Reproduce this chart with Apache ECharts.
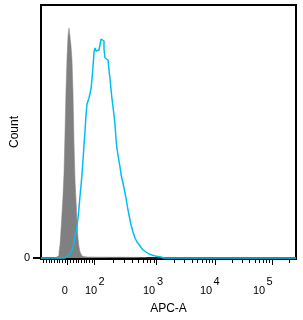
<!DOCTYPE html>
<html><head><meta charset="utf-8">
<script src="https://cdn.jsdelivr.net/npm/echarts@6/dist/echarts.min.js"></script>
<style>html,body{margin:0;padding:0;background:#fff}#c{width:303px;height:320px}</style>
</head><body><div id="c"></div>
<script>
// Histogram data in display channels (0..255)
const channelCount = 256;
const grayStart = 14;
const grayCounts = [0.5,1,1.5,2.5,6,13,28,45,62,85,125,168,200,222,230,228,212,198,165,115,78,58,35,20,11,6,4,2,1.5,
  1.2,1.2,1.1,1,1,1,1,1,1,1,0.9,0.9,0.9,0.9,0.9,0.9,0.9,0.9,0.9,0.9,0.9,0.9,0.8,0.8,0.8,0.8,0.8,0.8,0.8,0.8,0.8,0.8,
  0.8,0.8,0.8,0.8,0.8,0.8,0.8,0.8,0.8,0.8,0.7,0.7,0.7,0.7,0.7,0.7,0.7,0.7,0.7,0.7,0.7,0.7,0.6,0.6,0.6,0.6,0.5,0.5,0.5];
const cyanStart = 25;
const cyanCounts = [2,2,2.5,3.5,4.5,6,8,11,16,22,
  26,32,40,50,62,72,84,98,113,127,
  143,154,157,160,161,169,179,191,206,210,
  207,207,208,210,213,219,221,217,209,200,
  200,198,196,188,179,169,159,151,143,133,
  119,109,103,97,91,84,79,75,70,65,
  60,54,48,43,38,33,30,26,23,20,
  18,16,14.5,13.5,12.5,10.5,9.5,8,7,6,
  5,4.3,4,3.6,3.3,3,2.7,2.4,2.1,1.9,
  1.7,1.5,1.3,1.1,1,0.8];

// Axis tick values (data units) and labels
const majorTickValues = [0, 100, 1000, 10000, 100000];
const majorTickBase = ['0', '10', '10', '10', '10'];
const majorTickExp = ['', '2', '3', '4', '5'];
const minorTickValues = [-90,-80,-70,-60,-50,-40,-30,-20,-10,
  10,20,30,40,50,60,70,80,90,
  200,300,400,500,600,700,800,900,
  2000,3000,4000,5000,6000,7000,8000,9000,
  20000,30000,40000,50000,60000,70000,80000,90000,
  200000];

// Biexponential display scale: linear near zero, log decades above 100
const linZero = 26.7, linSlope = 0.27;
const decadeAnchors = [[100, 53.7], [1000, 115.7], [10000, 174], [100000, 231.3], [1000000, 288.6]];
function toChannel(v) {
  if (v <= 100) return linZero + linSlope * v;
  for (let i = 0; i < decadeAnchors.length - 1; i++) {
    const [a, pa] = decadeAnchors[i], [b, pb] = decadeAnchors[i + 1];
    if (v <= b) return pa + (pb - pa) * Math.log10(v / a) / Math.log10(b / a);
  }
  return decadeAnchors[decadeAnchors.length - 1][1];
}
// label text offsets relative to the tick (style)
const baseShift = [-3, -3.7, -7.7, -9, -13.3];
const expShift = [0, 6.8, 3.3, 1.5, -2.8];

function buildSeries(start, counts) {
  const arr = [];
  for (let c = 0; c < channelCount; c++) {
    const k = c - start;
    arr.push([c, (k >= 0 && k < counts.length) ? counts[k] : 0]);
  }
  return arr;
}
function nearestIndex(list, val) {
  let best = 0, d = 1e9;
  list.forEach((p, i) => { if (Math.abs(p - val) < d) { d = Math.abs(p - val); best = i; } });
  return best;
}

const basePos = majorTickValues.map((v, i) => toChannel(v) + baseShift[i]);
const expIdx = majorTickValues.map((v, i) => i).filter(i => majorTickExp[i]);
const expPos = expIdx.map(i => toChannel(majorTickValues[i]) + expShift[i]);
const font = 'Liberation Sans, Arial, sans-serif';

const chart = echarts.init(document.getElementById('c'), null, {renderer: 'canvas'});
chart.setOption({
  animation: false,
  textStyle: {fontFamily: font, color: '#000'},
  grid: {left: 41, right: 7, top: 5, bottom: 61, containLabel: false, outerBoundsMode: 'none',
         show: true, borderColor: '#000', borderWidth: 2, backgroundColor: 'transparent'},
  xAxis: [{
    type: 'value', min: 0, max: 255, position: 'bottom',
    axisLine: {show: true, lineStyle: {color: '#000', width: 2}},
    splitLine: {show: false},
    axisTick: {show: true, customValues: majorTickValues.map(toChannel), length: 7, lineStyle: {color: '#000', width: 1}},
    axisLabel: {
      customValues: basePos, margin: 26, color: '#000', fontSize: 11, fontFamily: font,
      formatter: val => majorTickBase[nearestIndex(basePos, val)]
    },
    name: 'APC-A', nameLocation: 'middle', nameGap: 44,
    nameTextStyle: {fontSize: 12, fontFamily: font, color: '#000'}
  }, {
    type: 'value', min: 0, max: 255, position: 'bottom',
    axisLine: {show: false}, splitLine: {show: false},
    axisTick: {show: true, customValues: minorTickValues.map(toChannel), length: 4, lineStyle: {color: '#000', width: 1}},
    axisLabel: {show: false}
  }, {
    type: 'value', min: 0, max: 255, position: 'bottom',
    axisLine: {show: false}, splitLine: {show: false}, axisTick: {show: false},
    axisLabel: {
      customValues: expPos, margin: 17, color: '#000', fontSize: 11, fontFamily: font,
      formatter: val => majorTickExp[expIdx[nearestIndex(expPos, val)]]
    }
  }],
  yAxis: {
    type: 'value', min: -1, max: 253,
    axisLine: {show: true, lineStyle: {color: '#000', width: 2}},
    splitLine: {show: false},
    axisTick: {show: true, customValues: [0], length: 8, lineStyle: {color: '#000', width: 2}},
    axisLabel: {customValues: [0], margin: 11, fontSize: 11, color: '#000', padding: [0, 0, 4, 0]},
    name: 'Count', nameLocation: 'middle', nameGap: 20, nameMoveOverlap: false,
    nameTextStyle: {fontSize: 12, fontFamily: font, color: '#000'}
  },
  series: [{
    type: 'line', xAxisIndex: 0, step: 'end', symbol: 'none', z: 2,
    data: buildSeries(grayStart, grayCounts),
    lineStyle: {color: '#808080', width: 0.5},
    areaStyle: {color: '#808080', opacity: 1}
  }, {
    type: 'line', xAxisIndex: 0, step: 'end', symbol: 'none', z: 3,
    data: buildSeries(cyanStart, cyanCounts),
    lineStyle: {color: '#00bef2', width: 1.5}
  }]
});
</script></body></html>
